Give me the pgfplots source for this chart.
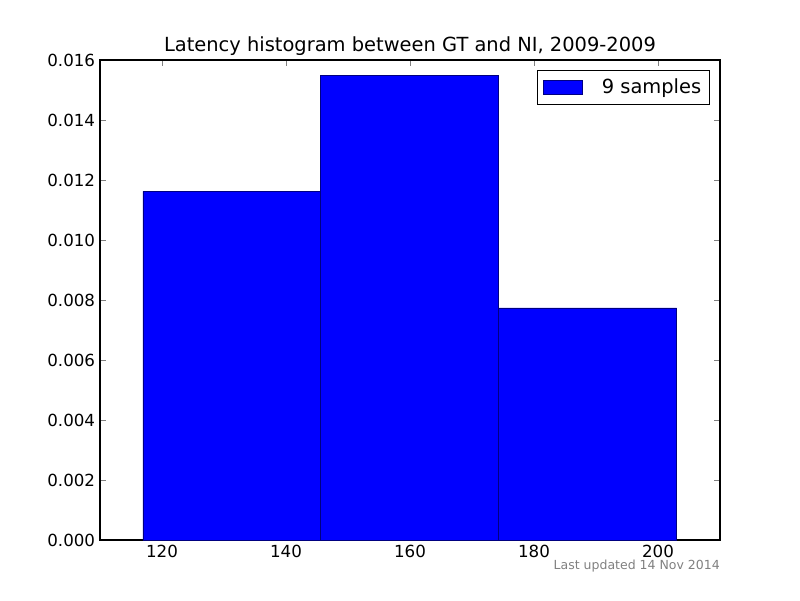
\documentclass[border=0pt]{standalone}
\usepackage{pgfplots}
\pgfplotsset{compat=1.18}
\usepackage{fontspec}
\setmainfont{DejaVu Sans}
\begin{document}
\begin{tikzpicture}[x=1pt,y=1pt]
\path (0,0) rectangle (576,432);
\begin{axis}[
  at={(72pt,43.2pt)}, anchor=south west,
  scale only axis, width=446.4pt, height=345.6pt,
  xmin=110, xmax=210, ymin=0, ymax=0.016,
  xtick={120,140,...,200},
  ytick={0,0.002,...,0.016},
  tick align=inside,
  xtick pos=both, ytick pos=both,
  major tick length=4pt,
  minor tick num=0,
  scaled y ticks=false,
  /pgf/number format/assume math mode=true,
  yticklabel style={/pgf/number format/.cd,fixed,fixed zerofill,precision=3},
  xticklabel style={/pgf/number format/.cd,fixed,precision=0},
  tick label style={font=\fontsize{12}{14}\selectfont},
  axis line style={black, line width=0.8pt},
  title={Latency histogram between GT and NI, 2009-2009},
  title style={font=\fontsize{14}{16}\selectfont, yshift=-6pt},
  legend style={at={(1,1)}, anchor=north east, xshift=-7.2pt, yshift=-7.2pt,
    font=\fontsize{14}{16}\selectfont, draw=black, line width=0.6pt, inner sep=4pt},
  legend cell align=left,
  legend image code/.code={\draw[#1, line width=0.4pt] (-2pt,-5pt) rectangle (26pt,5pt);},
]
\addplot[ybar interval, fill=blue, draw=blue!50!black, line width=0.4pt]
  coordinates {(116.9,0.01162) (145.6,0.01549) (174.3,0.00774) (203.0,0.00774)};
\addlegendentry{\hspace{12pt}9 samples}
\end{axis}
\node[anchor=north east, text=gray, font=\fontsize{9}{11}\selectfont, inner sep=0pt] at (518.4,28.8) {Last updated 14 Nov 2014};
\end{tikzpicture}
\end{document}
